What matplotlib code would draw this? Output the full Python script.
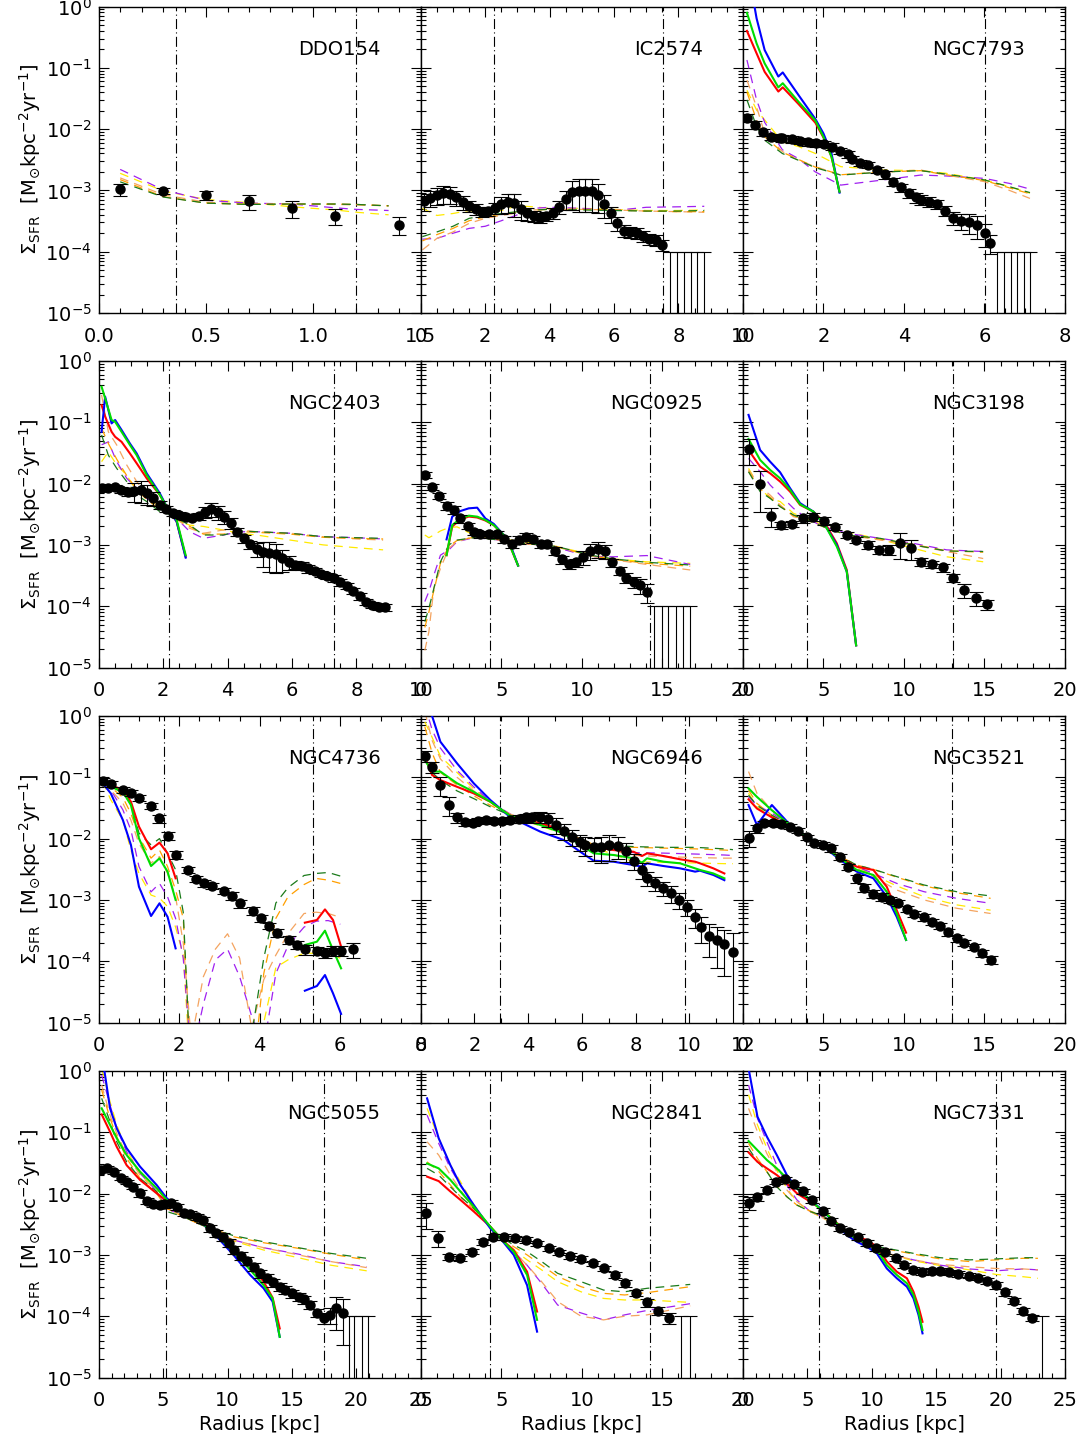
import numpy as np
import matplotlib
matplotlib.use("Agg")
import matplotlib.pyplot as plt
from matplotlib.ticker import MultipleLocator, LogLocator, NullFormatter

plt.rcParams['font.family'] = ['DejaVu Sans']
plt.rcParams['mathtext.fontset'] = 'dejavusans'

# ---------------- DDO154 ----------------
ddo154_r = [0.1, 0.3, 0.5, 0.7, 0.9, 1.1, 1.4]
ddo154_sfr = [1.05e-3, 9.8e-4, 8.3e-4, 6.6e-4, 5.1e-4, 3.8e-4, 2.75e-4]
ddo154_err = [0.23, 0.12, 0.16, 0.27, 0.30, 0.29, 0.32]
ddo154_mr = [0.1, 0.3, 0.5, 0.7, 0.9, 1.1, 1.2, 1.35]
ddo154_yellow = [1.9e-3, 9.8e-4, 7.1e-4, 6.3e-4, 5.4e-4, 4.8e-4, 4.4e-4, 4.0e-4]
ddo154_purple = [2.2e-3, 1.02e-3, 6.9e-4, 6.2e-4, 6.0e-4, 5.2e-4, 4.9e-4, 4.7e-4]
ddo154_peach = [1.6e-3, 8.5e-4, 6.4e-4, 6.0e-4, 6.0e-4, 5.9e-4, 5.8e-4, 5.6e-4]
ddo154_orange = [1.5e-3, 7.9e-4, 6.2e-4, 5.9e-4, 6.0e-4, 6.0e-4, 5.9e-4, 5.6e-4]
ddo154_dgreen = [1.38e-3, 7.8e-4, 6.2e-4, 5.9e-4, 6.0e-4, 6.0e-4, 5.9e-4, 5.6e-4]
ddo154_vl = [0.36, 1.2]

# ---------------- IC2574 ----------------
ic2574_r = [0.1, 0.3, 0.5, 0.7, 0.9, 1.1, 1.3, 1.5, 1.7, 1.9, 2.1, 2.3, 2.5, 2.7, 2.9, 3.1, 3.3, 3.5, 3.7,
            3.9, 4.1, 4.3, 4.5, 4.7, 4.9, 5.1, 5.3, 5.5, 5.7, 5.9, 6.1, 6.3, 6.5, 6.7, 6.9, 7.1, 7.3, 7.5]
ic2574_sfr = [6.7e-4, 7.6e-4, 8.4e-4, 8.95e-4, 8.6e-4, 7.7e-4, 6.5e-4, 5.6e-4, 5.0e-4, 4.5e-4,
              4.6e-4, 5.2e-4, 5.9e-4, 6.5e-4, 6.2e-4, 5.0e-4, 4.2e-4, 3.8e-4, 3.6e-4, 3.8e-4,
              4.3e-4, 5.4e-4, 7.3e-4, 9.5e-4, 9.8e-4, 9.8e-4, 9.8e-4, 8.4e-4, 6.0e-4, 4.2e-4,
              2.9e-4, 2.2e-4, 2.1e-4, 2.0e-4, 1.8e-4, 1.6e-4, 1.55e-4, 1.3e-4]
ic2574_err = [0.30, 0.30, 0.32, 0.32, 0.30, 0.28, 0.25, 0.22, 0.20, 0.18, 0.18, 0.22, 0.30, 0.35, 0.40,
              0.35, 0.25, 0.20, 0.18, 0.18, 0.20, 0.25, 0.35, 0.50, 0.55, 0.55, 0.55, 0.50, 0.40, 0.30,
              0.25, 0.22, 0.20, 0.20, 0.20, 0.20, 0.20, 0.20]
ic2574_lim = [7.75, 7.96, 8.17, 8.38, 8.59, 8.8]
ic2574_mr = [0.05, 0.5, 1.0, 1.5, 2.0, 2.5, 3.0, 3.5, 4.0, 5.0, 6.0, 7.0, 8.0, 8.8]
ic2574_yellow = [5.1e-4, 3.9e-4, 4.2e-4, 4.7e-4, 4.2e-4, 4.7e-4, 5.6e-4, 5.4e-4, 5.1e-4, 5.1e-4, 4.9e-4, 4.7e-4, 4.7e-4, 4.8e-4]
ic2574_purple = [1.6e-4, 1.65e-4, 2.0e-4, 2.4e-4, 2.6e-4, 3.2e-4, 4.0e-4, 5.1e-4, 5.3e-4, 5.1e-4, 4.7e-4, 5.3e-4, 5.4e-4, 5.5e-4]
ic2574_peach = [1.07e-4, 1.65e-4, 2.1e-4, 2.9e-4, 3.5e-4, 3.9e-4, 4.3e-4, 4.8e-4, 4.9e-4, 4.9e-4, 4.8e-4, 4.6e-4, 4.5e-4, 4.4e-4]
ic2574_orange = [1.5e-4, 1.9e-4, 2.4e-4, 3.2e-4, 3.7e-4, 4.1e-4, 4.4e-4, 4.8e-4, 4.9e-4, 4.9e-4, 4.8e-4, 4.6e-4, 4.5e-4, 4.5e-4]
ic2574_dgreen = [1.76e-4, 2.1e-4, 2.6e-4, 3.5e-4, 3.9e-4, 4.2e-4, 4.5e-4, 4.8e-4, 4.9e-4, 4.8e-4, 4.7e-4, 4.6e-4, 4.6e-4, 4.7e-4]
ic2574_vl = [2.26, 7.52]

# ---------------- NGC7793 ----------------
ngc7793_r = [0.10, 0.30, 0.50, 0.71, 0.91, 0.98, 1.21, 1.41, 1.61, 1.81, 2.01, 2.21, 2.41, 2.61, 2.71, 2.91, 3.11,
             3.32, 3.52, 3.72, 3.92, 4.12, 4.31, 4.42, 4.62, 4.82, 5.02, 5.21, 5.42, 5.62, 5.82, 6.02, 6.13]
ngc7793_sfr = [1.53e-2, 1.17e-2, 8.9e-3, 7.5e-3, 7.2e-3, 7.1e-3, 6.8e-3, 6.4e-3, 6.1e-3, 5.9e-3, 5.7e-3,
               5.2e-3, 4.4e-3, 3.9e-3, 3.3e-3, 2.8e-3, 2.6e-3, 2.15e-3, 1.83e-3, 1.39e-3, 1.12e-3, 9.0e-4,
               7.7e-4, 7.1e-4, 6.5e-4, 6.0e-4, 4.7e-4, 3.6e-4, 3.2e-4, 3.0e-4, 2.7e-4, 2.0e-4, 1.4e-4]
ngc7793_err = [0.15, 0.15, 0.12, 0.12, 0.12, 0.12, 0.12, 0.12, 0.12, 0.12, 0.12, 0.12, 0.12, 0.12, 0.12, 0.12,
               0.12, 0.12, 0.15, 0.15, 0.15, 0.15, 0.18, 0.18, 0.18, 0.18, 0.2, 0.25, 0.3, 0.35, 0.4, 0.4, 0.35]
ngc7793_lim = [6.32, 6.48, 6.65, 6.81, 6.97, 7.13]
ngc7793_sr = [0.1, 0.34, 0.54, 0.88, 0.99, 1.38, 1.8, 2.0, 2.2, 2.4]
ngc7793_red = [0.40, 0.172, 0.086, 0.041, 0.048, 0.0257, 0.0127, 7.3e-3, 3.55e-3, 9.5e-4]
ngc7793_green = [0.79, 0.25, 0.118, 0.048, 0.056, 0.028, 0.0138, 7.5e-3, 3.55e-3, 9.5e-4]
ngc7793_blue = [5.0, 0.64, 0.195, 0.072, 0.084, 0.036, 0.0146, 8.5e-3, 4.0e-3, 9.2e-4]
ngc7793_mr = [0.1, 0.34, 0.54, 0.98, 1.38, 1.8, 2.43, 3.48, 4.42, 5.05, 6.0, 6.62, 7.13]
ngc7793_yellow = [0.043, 0.0205, 0.0141, 6.2e-3, 5.2e-3, 4.0e-3, 2.44e-3, 2.15e-3, 2.1e-3, 1.9e-3, 1.48e-3, 1.15e-3, 9.0e-4]
ngc7793_purple = [0.134, 0.030, 0.0129, 4.6e-3, 3.3e-3, 2.0e-3, 1.22e-3, 1.48e-3, 1.78e-3, 1.72e-3, 1.57e-3, 1.3e-3, 1.05e-3]
ngc7793_peach = [0.063, 0.023, 8.5e-3, 4.3e-3, 3.1e-3, 2.44e-3, 1.78e-3, 2.0e-3, 2.15e-3, 1.78e-3, 1.39e-3, 1.0e-3, 7.4e-4]
ngc7793_orange = [0.040, 0.014, 7.5e-3, 4.2e-3, 3.2e-3, 2.4e-3, 1.8e-3, 2.0e-3, 2.1e-3, 1.8e-3, 1.45e-3, 1.1e-3, 8.8e-4]
ngc7793_dgreen = [0.030, 0.011, 6.6e-3, 4.0e-3, 3.1e-3, 2.35e-3, 1.78e-3, 2.0e-3, 2.1e-3, 1.84e-3, 1.48e-3, 1.15e-3, 9.2e-4]
ngc7793_vl = [1.81, 6.02]

# ---------------- NGC2403 ----------------
ngc2403_r = [0.1, 0.3, 0.5, 0.7, 0.9, 1.1, 1.3, 1.5, 1.7, 1.9, 2.1, 2.3, 2.5, 2.7, 2.9, 3.1, 3.3, 3.5, 3.7, 3.9,
             4.1, 4.3, 4.5, 4.7, 4.9, 5.1, 5.3, 5.5, 5.7, 5.9, 6.1, 6.3, 6.5, 6.7, 6.9, 7.1, 7.3, 7.5, 7.7, 7.9,
             8.1, 8.3, 8.5, 8.7, 8.9]
ngc2403_sfr = [8.4e-3, 8.6e-3, 8.7e-3, 7.9e-3, 7.4e-3, 7.7e-3, 7.9e-3, 6.9e-3, 5.75e-3, 4.5e-3, 3.85e-3,
               3.36e-3, 3.08e-3, 2.85e-3, 2.78e-3, 2.92e-3, 3.48e-3, 3.8e-3, 3.4e-3, 2.89e-3, 2.25e-3,
               1.64e-3, 1.28e-3, 1.02e-3, 8.6e-4, 7.8e-4, 7.3e-4, 7.0e-4, 6.0e-4, 5.2e-4, 4.7e-4, 4.6e-4,
               4.15e-4, 3.75e-4, 3.35e-4, 3.15e-4, 2.85e-4, 2.45e-4, 2.14e-4, 1.77e-4, 1.45e-4, 1.19e-4,
               1.05e-4, 9.8e-5, 9.6e-5]
ngc2403_err = [0.10, 0.10, 0.10, 0.12, 0.15, 0.35, 0.40, 0.35, 0.25, 0.15, 0.12, 0.12, 0.12, 0.10, 0.10,
               0.12, 0.20, 0.25, 0.25, 0.25, 0.20, 0.15, 0.15, 0.15, 0.25, 0.45, 0.50, 0.50, 0.40, 0.25,
               0.15, 0.15, 0.15, 0.12, 0.12, 0.12, 0.12, 0.12, 0.12, 0.12, 0.12, 0.12, 0.12, 0.12, 0.12]
ngc2403_sr = [0.09, 0.2, 0.4, 0.51, 0.71, 0.97, 1.18, 1.49, 1.9, 2.11, 2.42, 2.7]
ngc2403_red = [0.191, 0.124, 0.070, 0.058, 0.048, 0.031, 0.0214, 0.0122, 6.5e-3, 4.2e-3, 2.4e-3, 6.4e-4]
ngc2403_green = [0.38, 0.246, 0.109, 0.102, 0.070, 0.0426, 0.029, 0.0138, 6.5e-3, 4.2e-3, 2.55e-3, 6.8e-4]
ngc2403_blue = [0.070, 0.262, 0.096, 0.109, 0.075, 0.045, 0.031, 0.0147, 6.9e-3, 4.2e-3, 2.4e-3, 6.2e-4]
ngc2403_mr = [0.09, 0.3, 0.56, 0.87, 1.18, 1.49, 1.9, 2.21, 2.52, 2.83, 3.25, 3.87, 4.38, 4.9, 5.94, 6.97, 8.0, 8.83]
ngc2403_yellow = [0.0228, 0.033, 0.0201, 0.0138, 7.4e-3, 5.75e-3, 4.2e-3, 3.08e-3, 2.4e-3, 2.1e-3, 2.0e-3,
                  1.75e-3, 1.55e-3, 1.45e-3, 1.2e-3, 1.0e-3, 9.0e-4, 8.3e-4]
ngc2403_purple = [0.043, 0.048, 0.0228, 0.0122, 8.4e-3, 5.75e-3, 4.2e-3, 3.27e-3, 2.4e-3, 1.64e-3, 1.28e-3,
                  1.45e-3, 1.64e-3, 1.64e-3, 1.55e-3, 1.36e-3, 1.31e-3, 1.25e-3]
ngc2403_peach = [0.279, 0.070, 0.0426, 0.0201, 0.0108, 6.5e-3, 4.2e-3, 3.48e-3, 2.4e-3, 1.86e-3, 1.55e-3,
                 1.75e-3, 1.75e-3, 1.64e-3, 1.55e-3, 1.36e-3, 1.25e-3, 1.2e-3]
ngc2403_orange = [0.08, 0.045, 0.025, 0.0135, 8.0e-3, 5.5e-3, 3.8e-3, 3.3e-3, 2.5e-3, 2.0e-3, 1.5e-3,
                  1.5e-3, 1.65e-3, 1.6e-3, 1.5e-3, 1.33e-3, 1.28e-3, 1.25e-3]
ngc2403_dgreen = [0.062, 0.029, 0.0177, 0.0108, 6.5e-3, 5.1e-3, 3.48e-3, 3.15e-3, 2.55e-3, 2.1e-3, 1.45e-3,
                  1.45e-3, 1.69e-3, 1.64e-3, 1.55e-3, 1.36e-3, 1.31e-3, 1.28e-3]
ngc2403_vl = [2.19, 7.31]

# ---------------- NGC0925 ----------------
ngc0925_r = [0.25, 0.7, 1.16, 1.64, 2.05, 2.46, 2.92, 3.33, 3.7, 4.22, 4.74, 5.15, 5.67, 6.08, 6.56, 6.97,
             7.47, 7.84, 8.36, 8.77, 9.18, 9.66, 10.07, 10.53, 10.98, 11.41, 11.87, 12.35, 12.76, 13.26,
             13.63, 14.04]
ngc0925_sfr = [0.0138, 8.9e-3, 6.35e-3, 4.3e-3, 3.7e-3, 2.7e-3, 2.06e-3, 1.64e-3, 1.5e-3, 1.5e-3, 1.5e-3,
               1.23e-3, 1.03e-3, 1.2e-3, 1.36e-3, 1.23e-3, 1.03e-3, 1.03e-3, 8.05e-4, 5.8e-4, 4.8e-4,
               5.2e-4, 6.3e-4, 7.95e-4, 8.7e-4, 7.85e-4, 5.2e-4, 3.8e-4, 2.92e-4, 2.5e-4, 2.2e-4, 1.73e-4]
ngc0925_err = [0.12, 0.12, 0.12, 0.15, 0.15, 0.15, 0.12, 0.12, 0.12, 0.12, 0.12, 0.12, 0.15, 0.15, 0.15,
               0.12, 0.12, 0.12, 0.15, 0.15, 0.15, 0.15, 0.25, 0.28, 0.30, 0.25, 0.15, 0.15, 0.18, 0.20,
               0.28, 0.35]
ngc0925_lim = [14.5, 14.97, 15.38, 15.84, 16.31, 16.73]
ngc0925_sr = [1.6, 1.95, 2.46, 2.98, 3.5, 4.01, 4.53, 5.15, 5.56, 6.04]
ngc0925_red = [6.8e-4, 2.0e-3, 2.6e-3, 2.9e-3, 2.8e-3, 2.5e-3, 2.1e-3, 1.45e-3, 9.4e-4, 4.6e-4]
ngc0925_green = [6.8e-4, 2.1e-3, 2.7e-3, 3.0e-3, 2.89e-3, 2.55e-3, 2.1e-3, 1.45e-3, 9.4e-4, 4.6e-4]
ngc0925_blue = [1.23e-3, 2.89e-3, 3.57e-3, 3.95e-3, 4.05e-3, 2.7e-3, 2.2e-3, 1.45e-3, 1.0e-3, 4.6e-4]
ngc0925_mr = [0.25, 0.5, 0.81, 1.22, 1.74, 2.25, 3.29, 4.32, 6.39, 8.46, 10.53, 11.98, 14.04, 16.73]
ngc0925_yellow = [1.45e-3, 1.31e-3, 1.45e-3, 1.69e-3, 1.91e-3, 1.97e-3, 1.45e-3, 1.31e-3, 1.13e-3, 9.4e-4,
                  7.0e-4, 5.9e-4, 5.3e-4, 5.0e-4]
ngc0925_purple = [1.19e-4, 1.73e-4, 3.2e-4, 6.8e-4, 8.3e-4, 1.13e-3, 1.31e-3, 1.25e-3, 1.06e-3, 9.0e-4,
                  6.4e-4, 6.4e-4, 6.7e-4, 4.8e-4]
ngc0925_peach = [1.9e-5, 3.8e-5, 1.95e-4, 4.15e-4, 8.8e-4, 1.13e-3, 1.36e-3, 1.28e-3, 1.06e-3, 9.4e-4,
                 6.6e-4, 5.7e-4, 4.8e-4, 3.9e-4]
ngc0925_orange = [4.5e-5, 8.0e-5, 1.8e-4, 5.0e-4, 9.5e-4, 1.18e-3, 1.33e-3, 1.26e-3, 1.06e-3, 9.2e-4,
                  6.7e-4, 5.8e-4, 5.0e-4, 4.5e-4]
ngc0925_dgreen = [5.6e-5, 9.2e-5, 1.95e-4, 5.3e-4, 1.0e-3, 1.2e-3, 1.31e-3, 1.25e-3, 1.06e-3, 9.4e-4,
                  6.8e-4, 5.9e-4, 5.2e-4, 4.7e-4]
ngc0925_vl = [4.32, 14.25]

# ---------------- NGC3198 ----------------
ngc3198_r = [0.35, 1.07, 1.76, 2.36, 3.04, 3.76, 4.38, 5.06, 5.74, 6.45, 7.05, 7.75, 8.46, 9.06, 9.76,
             10.44, 11.04, 11.74, 12.45, 13.07, 13.75, 14.45, 15.13]
ngc3198_sfr = [0.0362, 9.7e-3, 3.0e-3, 2.1e-3, 2.2e-3, 2.7e-3, 2.89e-3, 2.48e-3, 1.98e-3, 1.45e-3, 1.2e-3,
               1.0e-3, 8.3e-4, 8.3e-4, 1.06e-3, 8.8e-4, 5.3e-4, 4.8e-4, 4.3e-4, 2.92e-4, 1.84e-4, 1.34e-4,
               1.07e-4]
ngc3198_err = [0.45, 0.65, 0.35, 0.12, 0.12, 0.15, 0.15, 0.15, 0.12, 0.12, 0.12, 0.15, 0.15, 0.18, 0.45,
               0.35, 0.15, 0.12, 0.15, 0.15, 0.25, 0.25, 0.2]
ngc3198_sr = [0.35, 1.07, 1.69, 2.31, 2.93, 3.55, 4.38, 5.1, 5.83, 6.45, 7.03]
ngc3198_red = [0.0353, 0.0189, 0.0147, 0.0108, 7.4e-3, 4.5e-3, 3.48e-3, 2.25e-3, 1.06e-3, 3.9e-4, 2.3e-5]
ngc3198_green = [0.0534, 0.0243, 0.0167, 0.0122, 7.9e-3, 4.6e-3, 3.48e-3, 2.1e-3, 9.4e-4, 3.66e-4, 2.3e-5]
ngc3198_blue = [0.132, 0.0353, 0.0228, 0.0153, 8.4e-3, 4.8e-3, 3.48e-3, 2.1e-3, 1.0e-3, 3.66e-4, 2.3e-5]
ngc3198_mr = [0.35, 1.07, 1.69, 2.31, 3.14, 3.97, 5.0, 6.45, 8.52, 10.58, 12.65, 14.92]
ngc3198_yellow = [0.0177, 8.4e-3, 5.75e-3, 5.1e-3, 3.27e-3, 2.7e-3, 2.1e-3, 1.64e-3, 1.23e-3, 8.8e-4, 6.4e-4, 5.3e-4]
ngc3198_purple = [0.0258, 0.0156, 9.5e-3, 6.5e-3, 3.95e-3, 2.7e-3, 1.98e-3, 1.55e-3, 1.28e-3, 1.06e-3, 8.3e-4, 7.8e-4]
ngc3198_peach = [0.0167, 8.9e-3, 6.5e-3, 4.5e-3, 2.89e-3, 2.55e-3, 1.98e-3, 1.45e-3, 1.2e-3, 1.0e-3, 7.8e-4, 6.0e-4]
ngc3198_orange = [0.0158, 8.2e-3, 6.0e-3, 4.3e-3, 3.0e-3, 2.55e-3, 1.98e-3, 1.45e-3, 1.25e-3, 1.02e-3, 8.0e-4, 7.6e-4]
ngc3198_dgreen = [0.0156, 7.4e-3, 5.75e-3, 4.2e-3, 3.08e-3, 2.55e-3, 1.98e-3, 1.45e-3, 1.28e-3, 1.0e-3, 7.95e-4, 7.8e-4]
ngc3198_vl = [3.97, 13.02]

# ---------------- NGC4736 ----------------
ngc4736_r = [0.10, 0.30, 0.60, 0.80, 1.0, 1.30, 1.51, 1.71, 1.91, 2.21, 2.41, 2.62, 2.82, 3.12, 3.32, 3.52,
             3.82, 4.02, 4.22, 4.42, 4.72, 4.92, 5.12, 5.42, 5.62, 5.82, 6.02, 6.32]
ngc4736_sfr = [0.088, 0.078, 0.062, 0.056, 0.0466, 0.0345, 0.0214, 0.011, 5.4e-3, 3.08e-3, 2.19e-3, 1.86e-3,
               1.69e-3, 1.4e-3, 1.17e-3, 8.8e-4, 6.6e-4, 5.0e-4, 3.75e-4, 2.92e-4, 2.22e-4, 1.84e-4,
               1.56e-4, 1.47e-4, 1.38e-4, 1.49e-4, 1.49e-4, 1.56e-4]
ngc4736_err = [0.10, 0.10, 0.12, 0.12, 0.12, 0.12, 0.15, 0.15, 0.15, 0.12, 0.12, 0.12, 0.12, 0.12, 0.15,
               0.15, 0.15, 0.12, 0.12, 0.15, 0.15, 0.15, 0.18, 0.15, 0.18, 0.18, 0.18, 0.28]
ngc4736_sr = [0.1, 0.3, 0.6, 0.8, 1.0, 1.3, 1.51, 1.71, 1.91, np.nan, 5.12, 5.42, 5.62, 5.82, 6.02]
ngc4736_red = [0.0797, 0.0749, 0.062, 0.040, 0.0157, 6.7e-3, 8.6e-3, 5.75e-3, 2.25e-3, np.nan,
               4.25e-4, 4.7e-4, 7.0e-4, 4.7e-4, 1.73e-4]
ngc4736_green = [0.0797, 0.0703, 0.058, 0.0353, 0.0101, 3.57e-3, 4.77e-3, 2.89e-3, 1.0e-3, np.nan,
                 1.84e-4, 2.08e-4, 3.15e-4, 1.52e-4, 7.65e-5]
ngc4736_blue = [0.0797, 0.0547, 0.0201, 7.9e-3, 1.64e-3, 5.46e-4, 8.8e-4, 5.3e-4, 1.62e-4, np.nan,
                3.3e-5, 3.94e-5, 5.95e-5, 2.99e-5, 1.38e-5]
ngc4736_mr = [0.1, 0.3, 0.6, 0.8, 1.0, 1.3, 1.51, 1.71, 1.91, 2.1, 2.3, 2.6, 2.9, 3.2, 3.5, 3.8, 4.1, 4.4,
              4.7, 5.1, 5.4, 5.7, 6.0]
ngc4736_yellow = [0.085, 0.043, 0.020, 6.5e-3, 2.7e-3, 1.2e-3, 1.07e-3, 7.8e-4, 3.6e-4, 1.26e-4, 1e-6, 1e-6,
                  1e-6, 1e-6, 1e-6, 1e-6, 1.0e-5, 7.9e-5, 1.05e-4, 1.35e-4, 1.35e-4, 1.32e-4, 1.12e-4]
ngc4736_purple = [0.085, 0.062, 0.0295, 0.0138, 3.5e-3, 1.35e-3, 1.86e-3, 1.12e-3, 5.0e-4, 1.12e-4, 2.5e-6,
                  2.0e-5, 1.05e-4, 1.58e-4, 5.6e-5, 1.26e-5, 4e-6, 6.3e-5, 1.78e-4, 3.6e-4, 4.5e-4, 4.6e-4, 4.0e-4]
ngc4736_peach = [0.085, 0.062, 0.038, 0.020, 8.3e-3, 4.0e-3, 5.1e-3, 2.7e-3, 1.12e-3, 2.0e-4, 5e-6, 5.6e-5,
                 1.58e-4, 2.8e-4, 1.12e-4, 8e-6, 5.0e-5, 1.26e-4, 2.8e-4, 6.0e-4, 6.3e-4, 6.0e-4, 5.2e-4]
ngc4736_orange = [0.085, 0.069, 0.047, 0.0257, 0.0107, 4.8e-3, 6.5e-3, 3.5e-3, 1.45e-3, 5.0e-4, 1e-6, 1e-6,
                  1e-6, 1e-6, 1e-6, 1e-6, 6.3e-5, 5.0e-4, 1.12e-3, 1.78e-3, 2.24e-3, 2.1e-3, 1.86e-3]
ngc4736_dgreen = [0.085, 0.072, 0.055, 0.037, 0.0123, 7.9e-3, 0.010, 5.75e-3, 3.1e-3, 6.3e-4, 1e-6, 1e-6,
                  1e-6, 1e-6, 1e-6, 6.3e-6, 1.12e-4, 8.9e-4, 1.58e-3, 2.5e-3, 2.7e-3, 2.8e-3, 2.45e-3]
ngc4736_vl = [1.61, 5.32]

# ---------------- NGC6946 ----------------
ngc6946_r = [0.15, 0.42, 0.73, 1.04, 1.35, 1.64, 1.95, 2.12, 2.43, 2.72, 3.03, 3.34, 3.65, 3.93, 4.15, 4.45,
             4.73, 5.04, 5.32, 5.63, 5.94, 6.13, 6.44, 6.72, 7.03, 7.33, 7.64, 7.93, 8.24, 8.43, 8.73, 9.04,
             9.33, 9.63, 9.91, 10.22, 10.45, 10.72, 11.03, 11.31, 11.63]
ngc6946_sfr = [0.222, 0.149, 0.0749, 0.0353, 0.0222, 0.0184, 0.0182, 0.0194, 0.0201, 0.0194, 0.0194, 0.0201,
               0.0209, 0.0222, 0.0222, 0.0228, 0.0209, 0.0167, 0.0135, 0.0108, 8.9e-3, 7.9e-3, 7.2e-3,
               7.2e-3, 7.9e-3, 7.7e-3, 6.35e-3, 4.36e-3, 3.08e-3, 2.25e-3, 1.86e-3, 1.55e-3, 1.28e-3,
               1.0e-3, 7.8e-4, 5.3e-4, 3.66e-4, 2.58e-4, 2.22e-4, 1.91e-4, 1.43e-4]
ngc6946_err = [0.20, 0.20, 0.35, 0.35, 0.20, 0.12, 0.12, 0.12, 0.12, 0.12, 0.12, 0.12, 0.15, 0.15, 0.18,
               0.20, 0.25, 0.30, 0.30, 0.30, 0.30, 0.35, 0.40, 0.45, 0.45, 0.40, 0.35, 0.30, 0.30, 0.25,
               0.25, 0.25, 0.30, 0.30, 0.30, 0.35, 0.45, 0.55, 0.65, 0.70, 0.99]
ngc6946_sr = [0.15, 0.42, 0.73, 1.35, 1.97, 2.59, 3.34, 4.45, 5.32, 5.94, 6.44, 7.18, 7.93, 8.24, 8.43, 9.04,
              9.66, 10.22, 10.4, 10.9, 11.31]
ngc6946_red = [0.217, 0.109, 0.090, 0.070, 0.0547, 0.040, 0.0234, 0.0177, 0.0138, 8.9e-3, 7.4e-3, 6.5e-3,
               6.1e-3, 5.2e-3, 5.75e-3, 5.2e-3, 4.6e-3, 4.2e-3, 3.95e-3, 3.27e-3, 2.7e-3]
ngc6946_green = [0.191, 0.124, 0.124, 0.080, 0.058, 0.040, 0.0234, 0.0167, 0.0122, 7.9e-3, 5.75e-3, 5.4e-3,
                 4.77e-3, 4.05e-3, 4.77e-3, 4.2e-3, 3.95e-3, 3.27e-3, 3.08e-3, 2.7e-3, 2.25e-3]
ngc6946_blue = [1.5, 1.0, 0.38, 0.169, 0.080, 0.0426, 0.0222, 0.013, 9.5e-3, 6.1e-3, 4.36e-3, 4.2e-3,
                3.7e-3, 3.48e-3, 3.95e-3, 3.57e-3, 3.27e-3, 2.89e-3, 3.0e-3, 2.55e-3, 2.1e-3]
ngc6946_mr = [0.15, 0.42, 0.73, 1.35, 1.97, 2.59, 3.34, 4.45, 5.32, 6.44, 7.93, 9.04, 10.22, 11.31, 11.63]
ngc6946_yellow = [0.8, 0.45, 0.22, 0.12, 0.065, 0.04, 0.024, 0.016, 0.012, 7.2e-3, 4.2e-3, 4.1e-3, 4.0e-3, 3.9e-3, 3.9e-3]
ngc6946_purple = [1.5, 0.6, 0.3, 0.13, 0.07, 0.04, 0.025, 0.017, 0.0125, 7.6e-3, 5.9e-3, 5.8e-3, 5.6e-3, 5.4e-3, 5.3e-3]
ngc6946_peach = [1.2, 0.4, 0.2, 0.1, 0.06, 0.038, 0.025, 0.017, 0.012, 7.5e-3, 5.3e-3, 5.1e-3, 4.9e-3, 4.8e-3, 4.8e-3]
ngc6946_orange = [0.67, 0.25, 0.12, 0.075, 0.05, 0.035, 0.024, 0.018, 0.013, 8.0e-3, 7.2e-3, 7.0e-3, 6.8e-3, 6.5e-3, 6.4e-3]
ngc6946_dgreen = [0.2, 0.12, 0.09, 0.06, 0.045, 0.033, 0.024, 0.018, 0.013, 8.0e-3, 7.4e-3, 7.2e-3, 7.2e-3, 6.8e-3, 6.6e-3]
ngc6946_vl = [2.96, 9.83]

# ---------------- NGC3521 ----------------
ngc3521_r = [0.35, 0.87, 1.34, 1.86, 2.36, 2.93, 3.45, 3.97, 4.44, 4.96, 5.46, 6.04, 6.55, 7.07, 7.54, 8.06,
             8.62, 9.14, 9.65, 10.17, 10.65, 11.25, 11.74, 12.24, 12.76, 13.27, 13.75, 14.35, 14.87, 15.38]
ngc3521_sfr = [0.0104, 0.0147, 0.0177, 0.0182, 0.0173, 0.0157, 0.0135, 0.0105, 8.6e-3, 7.9e-3, 6.9e-3, 5.1e-3,
               3.48e-3, 2.25e-3, 1.58e-3, 1.25e-3, 1.13e-3, 1.0e-3, 9.0e-4, 7.1e-4, 5.9e-4, 5.2e-4, 4.4e-4,
               3.75e-4, 2.96e-4, 2.36e-4, 2.0e-4, 1.73e-4, 1.34e-4, 1.05e-4]
ngc3521_err = [0.30, 0.15, 0.10, 0.10, 0.10, 0.10, 0.10, 0.10, 0.10, 0.10, 0.12, 0.12, 0.12, 0.15, 0.15,
               0.15, 0.15, 0.12, 0.12, 0.12, 0.12, 0.12, 0.12, 0.12, 0.12, 0.12, 0.12, 0.12, 0.12, 0.15]
ngc3521_sr = [0.35, 0.87, 1.8, 2.93, 3.97, 5.0, 6.04, 7.07, 8.1, 8.93, 9.55, 10.13]
ngc3521_red = [0.0437, 0.031, 0.0222, 0.0157, 0.0101, 7.4e-3, 4.77e-3, 3.48e-3, 3.08e-3, 1.64e-3, 6.8e-4, 2.92e-4]
ngc3521_green = [0.066, 0.048, 0.029, 0.0167, 0.0108, 7.4e-3, 4.77e-3, 3.08e-3, 2.55e-3, 1.36e-3, 6.0e-4, 2.22e-4]
ngc3521_blue = [0.0353, 0.0167, 0.0353, 0.0167, 0.0108, 7.4e-3, 4.5e-3, 2.89e-3, 2.25e-3, 1.13e-3, 5.3e-4, 2.22e-4]
ngc3521_mr = [0.35, 0.87, 1.8, 2.93, 3.97, 5.0, 6.04, 7.07, 8.1, 9.55, 11.25, 13.27, 15.38]
ngc3521_yellow = [0.055, 0.033, 0.023, 0.0157, 9.8e-3, 7.2e-3, 4.77e-3, 3.48e-3, 2.55e-3, 1.69e-3, 1.13e-3, 8.3e-4, 6.8e-4]
ngc3521_purple = [0.048, 0.035, 0.026, 0.0167, 0.0101, 7.4e-3, 4.77e-3, 3.48e-3, 2.7e-3, 1.86e-3, 1.36e-3, 1.06e-3, 8.8e-4]
ngc3521_peach = [0.124, 0.055, 0.029, 0.0167, 0.0101, 7.4e-3, 4.77e-3, 3.27e-3, 2.4e-3, 1.45e-3, 1.0e-3, 7.3e-4, 6.0e-4]
ngc3521_orange = [0.062, 0.0375, 0.024, 0.0167, 0.0101, 7.4e-3, 5.1e-3, 3.7e-3, 3.15e-3, 2.35e-3, 1.69e-3, 1.31e-3, 1.06e-3]
ngc3521_dgreen = [0.051, 0.035, 0.024, 0.0167, 0.0101, 7.4e-3, 5.1e-3, 3.7e-3, 3.15e-3, 2.4e-3, 1.75e-3, 1.36e-3, 1.16e-3]
ngc3521_vl = [3.93, 12.96]

# ---------------- NGC5055 ----------------
ngc5055_r = [0.18, 0.67, 1.19, 1.71, 2.23, 2.69, 3.21, 3.73, 4.25, 4.76, 5.08, 5.6, 6.11, 6.63, 7.1, 7.61,
             8.13, 8.65, 9.12, 9.61, 10.08, 10.54, 11.06, 11.5, 12.02, 12.54, 13.05, 13.52, 14.04, 14.48,
             15.0, 15.52, 15.9, 16.42, 16.94, 17.46, 17.93, 18.44, 18.96]
ngc5055_sfr = [0.0243, 0.0258, 0.0228, 0.0182, 0.0153, 0.013, 0.0101, 7.7e-3, 6.8e-3, 6.5e-3, 6.7e-3, 7.1e-3,
               6.1e-3, 4.9e-3, 4.65e-3, 4.2e-3, 3.7e-3, 2.7e-3, 2.25e-3, 1.98e-3, 1.58e-3, 1.2e-3, 9.7e-4,
               7.95e-4, 6.4e-4, 5.0e-4, 4.25e-4, 3.57e-4, 3.03e-4, 2.67e-4, 2.36e-4, 2.08e-4, 1.88e-4,
               1.52e-4, 1.14e-4, 9.5e-5, 1.05e-4, 1.34e-4, 1.14e-4]
ngc5055_err = [0.08, 0.08, 0.08, 0.08, 0.08, 0.10, 0.12, 0.12, 0.12, 0.12, 0.12, 0.12, 0.12, 0.12, 0.12,
               0.12, 0.12, 0.12, 0.12, 0.15, 0.15, 0.15, 0.15, 0.15, 0.15, 0.15, 0.15, 0.15, 0.15, 0.15,
               0.15, 0.15, 0.15, 0.15, 0.15, 0.20, 0.30, 0.55, 0.70]
ngc5055_lim = [19.4, 19.85, 20.45, 20.9]
ngc5055_sr = [0.23, 0.88, 1.4, 2.17, 3.21, 4.5, 5.28, 6.58, 7.87, 9.17, 10.46, 11.76, 12.8, 13.5, 14.05]
ngc5055_red = [0.196, 0.102, 0.058, 0.029, 0.0167, 0.0101, 7.6e-3, 5.1e-3, 3.48e-3, 2.4e-3, 1.36e-3,
               6.8e-4, 3.66e-4, 2.0e-4, 6.3e-5]
ngc5055_green = [0.246, 0.132, 0.080, 0.0426, 0.0228, 0.0122, 7.9e-3, 5.1e-3, 3.48e-3, 2.1e-3, 1.13e-3,
                 5.7e-4, 3.2e-4, 1.95e-4, 4.6e-5]
ngc5055_blue = [2.0, 0.246, 0.116, 0.055, 0.0275, 0.0138, 8.4e-3, 5.1e-3, 3.48e-3, 1.98e-3, 1.0e-3,
                4.7e-4, 2.85e-4, 1.73e-4, 4.6e-5]
ngc5055_mr = [0.23, 0.88, 1.4, 2.17, 3.21, 4.5, 5.28, 6.58, 7.87, 9.17, 10.46, 12.8, 15.5, 18.0, 20.8]
ngc5055_yellow = [1.1, 0.316, 0.132, 0.051, 0.0214, 0.0108, 5.75e-3, 4.2e-3, 3.15e-3, 2.4e-3, 1.69e-3,
                  1.2e-3, 9.0e-4, 6.8e-4, 5.5e-4]
ngc5055_purple = [0.86, 0.28, 0.116, 0.048, 0.0214, 0.011, 5.75e-3, 4.2e-3, 3.15e-3, 2.4e-3, 1.75e-3,
                  1.31e-3, 1.03e-3, 7.8e-4, 6.4e-4]
ngc5055_peach = [0.59, 0.19, 0.096, 0.0426, 0.0201, 0.0108, 5.75e-3, 4.2e-3, 3.15e-3, 2.4e-3, 1.75e-3,
                 1.31e-3, 1.0e-3, 7.8e-4, 6.2e-4]
ngc5055_orange = [0.49, 0.169, 0.085, 0.0375, 0.0177, 0.0101, 5.75e-3, 4.2e-3, 3.15e-3, 2.55e-3, 1.98e-3,
                  1.58e-3, 1.28e-3, 1.03e-3, 8.3e-4]
ngc5055_dgreen = [0.358, 0.149, 0.070, 0.033, 0.0177, 0.0108, 5.1e-3, 4.2e-3, 3.15e-3, 2.55e-3, 2.06e-3,
                  1.64e-3, 1.31e-3, 1.06e-3, 8.8e-4]
ngc5055_vl = [5.23, 17.46]

# ---------------- NGC2841 ----------------
ngc2841_r = [0.35, 1.06, 1.74, 2.46, 3.15, 3.85, 4.47, 5.15, 5.83, 6.54, 7.22, 7.94, 8.56, 9.29, 9.95, 10.67,
             11.35, 12.03, 12.65, 13.36, 14.04, 14.72, 15.43]
ngc2841_sfr = [4.77e-3, 1.91e-3, 9.4e-4, 8.8e-4, 1.13e-3, 1.64e-3, 1.98e-3, 1.98e-3, 1.86e-3, 1.75e-3,
               1.55e-3, 1.28e-3, 1.1e-3, 9.7e-4, 8.6e-4, 7.3e-4, 6.0e-4, 4.7e-4, 3.44e-4, 2.42e-4, 1.68e-4,
               1.22e-4, 9.5e-5]
ngc2841_err = [0.45, 0.30, 0.12, 0.10, 0.10, 0.10, 0.10, 0.10, 0.10, 0.10, 0.10, 0.10, 0.10, 0.10, 0.10,
               0.10, 0.10, 0.10, 0.12, 0.12, 0.15, 0.15, 0.2]
ngc2841_lim = [16.17, 16.73]
ngc2841_sr = [0.39, 1.11, 1.84, 2.46, 3.29, 4.32, 4.94, 5.77, 6.6, 7.22]
ngc2841_red = [0.0189, 0.016, 0.0108, 7.9e-3, 5.1e-3, 2.89e-3, 1.86e-3, 1.2e-3, 5.3e-4, 1.19e-4]
ngc2841_green = [0.031, 0.0258, 0.0167, 0.0108, 6.1e-3, 2.89e-3, 1.86e-3, 1.13e-3, 4.7e-4, 8.7e-5]
ngc2841_blue = [0.358, 0.080, 0.029, 0.0138, 6.5e-3, 2.7e-3, 1.86e-3, 1.0e-3, 3.2e-4, 5.6e-5]
ngc2841_mr = [0.39, 1.11, 1.84, 2.46, 3.29, 4.32, 4.94, 5.77, 6.6, 7.5, 8.5, 9.95, 11.35, 12.65, 14.04, 16.73]
ngc2841_yellow = [0.246, 0.080, 0.029, 0.0157, 6.5e-3, 2.89e-3, 1.86e-3, 1.2e-3, 8.3e-4, 5.7e-4, 3.66e-4,
                  2.5e-4, 1.95e-4, 1.84e-4, 1.84e-4, 1.68e-4]
ngc2841_purple = [0.191, 0.066, 0.0258, 0.0138, 6.1e-3, 2.89e-3, 1.86e-3, 1.13e-3, 6.8e-4, 3.44e-4, 1.52e-4,
                  1.13e-4, 8.7e-5, 1.05e-4, 1.24e-4, 1.6e-4]
ngc2841_peach = [0.070, 0.0426, 0.020, 0.0115, 5.75e-3, 2.89e-3, 1.86e-3, 1.13e-3, 6.8e-4, 3.66e-4, 1.73e-4,
                 1.0e-4, 8.7e-5, 1.0e-4, 1.05e-4, 1.48e-4]
ngc2841_orange = [0.033, 0.023, 0.0138, 8.9e-3, 5.6e-3, 2.89e-3, 1.91e-3, 1.36e-3, 1.0e-3, 6.8e-4, 4.45e-4,
                  3.03e-4, 2.36e-4, 2.22e-4, 2.42e-4, 3.03e-4]
ngc2841_dgreen = [0.0258, 0.020, 0.0129, 8.9e-3, 5.75e-3, 2.89e-3, 1.98e-3, 1.45e-3, 1.13e-3, 7.8e-4, 5.0e-4,
                  3.66e-4, 2.67e-4, 2.5e-4, 2.85e-4, 3.3e-4]
ngc2841_vl = [4.32, 14.25]

# ---------------- NGC7331 ----------------
ngc7331_r = [0.44, 1.13, 1.86, 2.58, 3.28, 3.98, 4.65, 5.35, 6.18, 6.85, 7.55, 8.27, 8.97, 9.62, 10.32, 11.04,
             11.87, 12.51, 13.24, 13.93, 14.66, 15.31, 16.03, 16.73, 17.58, 18.23, 18.98, 19.65, 20.35, 21.07,
             21.77, 22.47]
ngc7331_sfr = [7.1e-3, 8.7e-3, 0.0115, 0.0157, 0.0171, 0.0143, 0.011, 7.9e-3, 5.3e-3, 3.57e-3, 2.7e-3, 2.4e-3,
               1.98e-3, 1.58e-3, 1.31e-3, 1.13e-3, 8.8e-4, 6.8e-4, 5.7e-4, 5.3e-4, 5.46e-4, 5.5e-4, 5.2e-4,
               4.9e-4, 4.6e-4, 4.25e-4, 3.75e-4, 3.2e-4, 2.45e-4, 1.79e-4, 1.23e-4, 9.5e-5]
ngc7331_err = [0.25, 0.12, 0.10, 0.10, 0.10, 0.10, 0.10, 0.10, 0.10, 0.10, 0.10, 0.10, 0.10, 0.10, 0.10, 0.10,
               0.10, 0.10, 0.10, 0.10, 0.10, 0.10, 0.10, 0.10, 0.10, 0.10, 0.12, 0.12, 0.12, 0.12, 0.12, 0.12]
ngc7331_lim = [23.24]
ngc7331_sr = [0.44, 1.13, 1.86, 2.63, 3.41, 4.19, 5.22, 6.0, 7.03, 8.07, 8.84, 9.62, 10.4, 11.17, 11.95, 12.73,
              13.24, 13.63, 13.94]
ngc7331_red = [0.047, 0.033, 0.0258, 0.0201, 0.0147, 0.0101, 7.4e-3, 5.75e-3, 3.7e-3, 2.4e-3, 1.98e-3, 1.75e-3,
               1.36e-3, 7.8e-4, 5.3e-4, 4.15e-4, 2.5e-4, 1.43e-4, 8.1e-5]
ngc7331_green = [0.072, 0.051, 0.0353, 0.0258, 0.0177, 0.0122, 7.9e-3, 5.6e-3, 3.7e-3, 2.25e-3, 1.86e-3,
                 1.55e-3, 1.2e-3, 6.8e-4, 4.7e-4, 3.44e-4, 2.22e-4, 1.19e-4, 5.95e-5]
ngc7331_blue = [1.1, 0.18, 0.085, 0.0426, 0.0201, 0.0122, 7.9e-3, 5.75e-3, 3.48e-3, 2.1e-3, 1.64e-3, 1.36e-3,
                1.06e-3, 6.0e-4, 4.15e-4, 3.03e-4, 1.95e-4, 1.05e-4, 5.25e-5]
ngc7331_mr = [0.44, 1.13, 1.86, 2.63, 3.41, 4.19, 5.22, 6.0, 7.03, 8.07, 9.62, 11.17, 13.24, 15.31, 17.58,
              19.65, 21.77, 22.9]
ngc7331_yellow = [0.41, 0.132, 0.055, 0.024, 0.0122, 7.4e-3, 5.1e-3, 4.2e-3, 3.27e-3, 2.25e-3, 1.45e-3,
                  1.06e-3, 8.0e-4, 6.7e-4, 5.7e-4, 4.8e-4, 4.4e-4, 4.15e-4]
ngc7331_purple = [0.59, 0.169, 0.070, 0.029, 0.0138, 7.9e-3, 5.1e-3, 4.4e-3, 3.27e-3, 2.25e-3, 1.45e-3,
                  1.06e-3, 8.3e-4, 6.8e-4, 5.9e-4, 5.5e-4, 5.9e-4, 5.7e-4]
ngc7331_peach = [0.246, 0.102, 0.045, 0.0228, 0.0115, 7.4e-3, 5.1e-3, 4.2e-3, 3.27e-3, 2.25e-3, 1.45e-3,
                 1.06e-3, 8.3e-4, 7.0e-4, 6.4e-4, 6.0e-4, 5.9e-4, 5.7e-4]
ngc7331_orange = [0.066, 0.0375, 0.0228, 0.0138, 8.9e-3, 6.5e-3, 5.2e-3, 4.5e-3, 3.48e-3, 2.25e-3, 1.45e-3,
                  1.25e-3, 1.03e-3, 8.6e-4, 7.8e-4, 8.3e-4, 8.8e-4, 8.8e-4]
ngc7331_dgreen = [0.055, 0.033, 0.0228, 0.0129, 8.9e-3, 6.5e-3, 5.1e-3, 4.5e-3, 3.48e-3, 2.25e-3, 1.45e-3,
                  1.28e-3, 1.06e-3, 9.0e-4, 8.3e-4, 8.6e-4, 9.0e-4, 9.0e-4]
ngc7331_vl = [5.94, 19.65]

# panel table: name, xmax, major, minor
names = ['DDO154', 'IC2574', 'NGC7793', 'NGC2403', 'NGC0925', 'NGC3198',
         'NGC4736', 'NGC6946', 'NGC3521', 'NGC5055', 'NGC2841', 'NGC7331']
xmax = [1.5, 10, 8, 10, 20, 20, 8, 12, 20, 25, 20, 25]
xmajor = [0.5, 2, 2, 2, 5, 5, 2, 2, 5, 5, 5, 5]
xminor = [0.1, 0.5, 0.5, 0.5, 1, 1, 0.5, 1, 1, 1, 1, 1]

g = globals()
DASH_COLORS = [('yellow', '#FFEA00'), ('purple', '#A020F0'), ('peach', '#F4A460'),
               ('orange', '#FF9F00'), ('dgreen', '#1A7A1A')]
SOLID_COLORS = [('red', '#FF0000'), ('blue', '#0000FF'), ('green', '#00DD00')]

fig = plt.figure(figsize=(10.88, 14.45), dpi=100)
W, H = 1088.0, 1445.0
x0, pw, ph = 98.7, 322.1, 306.5
row_top = [6.5, 361.0, 716.0, 1071.0]

ylab = r'$\Sigma_{\rm SFR}$  [M$_{\odot}$kpc$^{-2}$yr$^{-1}$]'

for i, name in enumerate(names):
    row, col = divmod(i, 3)
    key = name.lower()
    ax = fig.add_axes([(x0 + col * pw) / W, 1 - (row_top[row] + ph) / H, pw / W, ph / H])
    ax.set_yscale('log')

    mr = g[key + '_mr']
    for cname, c in DASH_COLORS:
        ax.plot(mr, g[key + '_' + cname], color=c, lw=0.9, ls=(0, (7, 5)), zorder=2)

    if key + '_sr' in g:
        sr = g[key + '_sr']
        for cname, c in SOLID_COLORS:
            ax.plot(sr, g[key + '_' + cname], color=c, lw=1.5, zorder=3)

    r = np.array(g[key + '_r'])
    s = np.array(g[key + '_sfr'])
    e = np.array(g[key + '_err']) * s
    ax.errorbar(r, s, yerr=e, fmt='o', color='k', ms=6.5, elinewidth=0.8,
                capsize=4.8, capthick=0.8, zorder=4)

    if key + '_lim' in g:
        lim = g[key + '_lim']
        n = len(lim)
        ax.errorbar(lim, [1e-4] * n, yerr=[[1e-4 * 0.99999] * n, [0] * n], fmt='none',
                    ecolor='k', elinewidth=0.8, capsize=4.8, capthick=0.8, zorder=4)

    for v in g[key + '_vl']:
        ax.axvline(v, color='k', lw=0.8, ls=(0, (9, 3, 1, 3)), zorder=1)

    ax.set_xlim(0, xmax[i])
    ax.set_ylim(1e-5, 1)
    ax.xaxis.set_major_locator(MultipleLocator(xmajor[i]))
    ax.xaxis.set_minor_locator(MultipleLocator(xminor[i]))
    ax.yaxis.set_major_locator(LogLocator(base=10, numticks=10))
    ax.yaxis.set_minor_locator(LogLocator(base=10, subs=np.arange(2, 10), numticks=20))
    ax.yaxis.set_minor_formatter(NullFormatter())
    ax.tick_params(which='both', direction='in', top=True, right=True, width=0.8, labelsize=14)
    ax.tick_params(which='major', length=7)
    ax.tick_params(which='minor', length=3.5)
    ax.tick_params(axis='x', pad=10)
    ax.tick_params(axis='y', pad=5)
    if col != 0:
        ax.set_yticklabels([])
    for sp in ax.spines.values():
        sp.set_linewidth(1.0)

    ax.text(0.875, 0.86, name, transform=ax.transAxes, ha='right', va='center', fontsize=14)

    if col == 0:
        fig.text(30 / W, 1 - (row_top[row] + 153) / H, ylab, rotation=90,
                 ha='center', va='center', fontsize=14)
    if row == 3:
        fig.text((x0 + col * pw + pw / 2) / W, 1 - 1425 / H, 'Radius [kpc]',
                 ha='center', va='center', fontsize=14)

fig.savefig('out.png', dpi=100)
